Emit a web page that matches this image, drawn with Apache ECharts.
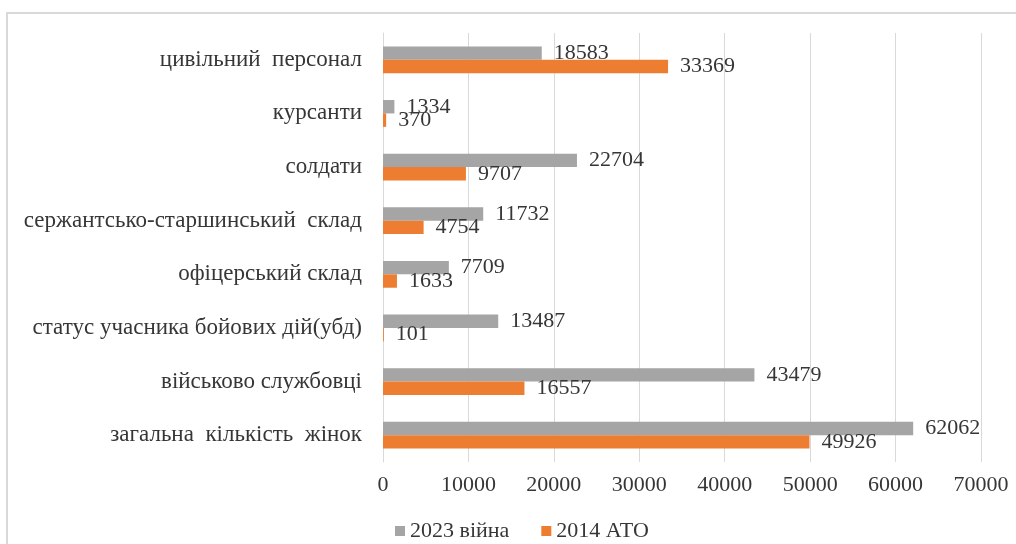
<!DOCTYPE html>
<html>
<head>
<meta charset="utf-8">
<script src="https://cdn.jsdelivr.net/npm/echarts@6/dist/echarts.min.js"></script>
<style>
html,body{margin:0;padding:0;background:#fff;}
#c{width:1016px;height:544px;}
</style>
</head>
<body>
<div id="c"></div>
<script>
const categories = [
  'загальна  кількість  жінок',
  'військово службовці',
  'статус учасника бойових дій(убд)',
  'офіцерський склад',
  'сержантсько-старшинський  склад',
  'солдати',
  'курсанти',
  'цивільний  персонал'
];
const war2023 = [62062, 43479, 13487, 7709, 11732, 22704, 1334, 18583];
const ato2014 = [49926, 16557, 101, 1633, 4754, 9707, 370, 33369];
const xTicks = [0, 10000, 20000, 30000, 40000, 50000, 60000, 70000];

const FONT = 'Liberation Serif, Times New Roman, serif';
const FS = 22;
const TXT = '#363636';
const plain = p => String(typeof p === 'object' ? p.value : p);
const chart = echarts.init(document.getElementById('c'));
chart.setOption({
  animation: false,
  backgroundColor: '#fff',
  graphic: [{
    type: 'rect', silent: true, z: -1,
    shape: {x: 7, y: 13, width: 1100, height: 600},
    style: {fill: 'none', stroke: '#d9d9d9', lineWidth: 2}
  }],
  grid: {left: 383, right: 35, top: 33, bottom: 82, containLabel: false},
  legend: {
    data: ['2023 війна', '2014 АТО'],
    left: 390, top: 515,
    itemWidth: 10, itemHeight: 10, itemGap: 32,
    icon: 'rect',
    textStyle: {fontFamily: FONT, fontSize: FS, color: TXT}
  },
  xAxis: {
    type: 'value', min: xTicks[0], max: xTicks[xTicks.length - 1], interval: 10000,
    axisLine: {show: false}, axisTick: {show: false},
    splitLine: {show: true, lineStyle: {color: '#d9d9d9', width: 1}},
    axisLabel: {fontFamily: FONT, fontSize: FS, color: TXT, margin: 12, formatter: v => String(v)}
  },
  yAxis: {
    type: 'category', data: categories,
    axisLine: {show: true, lineStyle: {color: '#d9d9d9'}}, axisTick: {show: false},
    axisLabel: {fontFamily: FONT, fontSize: 23, color: TXT, margin: 21}
  },
  series: [
    {
      name: '2023 війна', type: 'bar', data: war2023,
      barGap: '0%', barCategoryGap: '50%',
      itemStyle: {color: '#A5A5A5'},
      label: {show: true, position: 'right', distance: 12, fontFamily: FONT, fontSize: FS, color: TXT, formatter: plain}
    },
    {
      name: '2014 АТО', type: 'bar', data: ato2014,
      barGap: '0%', barCategoryGap: '50%',
      itemStyle: {color: '#ED7D31'},
      label: {show: true, position: 'right', distance: 12, fontFamily: FONT, fontSize: FS, color: TXT, formatter: plain}
    }
  ]
});
</script>
</body>
</html>
